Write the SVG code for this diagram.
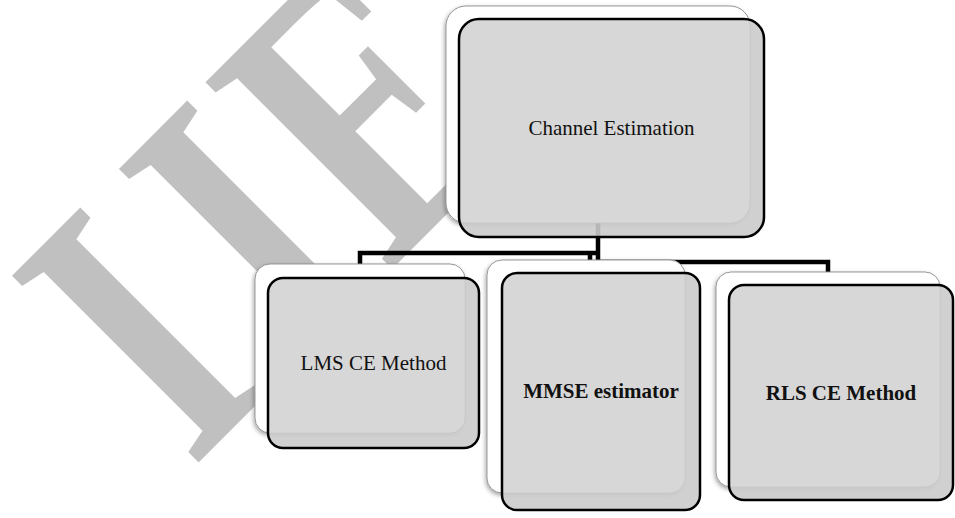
<svg xmlns="http://www.w3.org/2000/svg" width="955" height="518" viewBox="0 0 955 518">
  <defs>
    <filter id="soft" x="-10%" y="-10%" width="120%" height="120%">
      <feDropShadow dx="-1" dy="2" stdDeviation="2" flood-color="#000" flood-opacity="0.35"/>
    </filter>
    <style>
      .back { fill: #ffffff; stroke: #8c8c8c; stroke-width: 1; filter: url(#soft); }
      .face { fill: #cbcbcb; fill-opacity: 0.9; stroke: none; }
      .sheen { fill: #ffffff; fill-opacity: 0.15; stroke: none; }
      .edge { fill: none; stroke: #000; stroke-width: 2.5; }
      .lbl { font-family: "Liberation Serif", "Times New Roman", serif; font-size: 21px; fill: #111; text-anchor: middle; }
      .bold { font-weight: bold; }
      .wire { fill: none; stroke: #000; stroke-width: 4.5; stroke-linejoin: miter; stroke-linecap: butt; }
      .mark { font-family: "Liberation Serif", "Times New Roman", serif; font-weight: bold; font-size: 403px; fill: #c0c0c0; }
    </style>
  </defs>

  <rect width="955" height="518" fill="#ffffff"/>

  <!-- diagonal watermark lettering -->
  <g id="watermark" transform="translate(330.5,330.5) rotate(-45) scale(0.745,1)">
    <text class="mark" x="-264" y="0">I</text>
    <text class="mark" x="-61" y="0">I</text>
    <text class="mark" x="110" y="0">E</text>
  </g>

  <!-- tree connectors -->
  <g id="connectors">
    <path class="wire" d="M598,223 V262"/>
    <path class="wire" d="M598,253 H360 V265"/>
    <path class="wire" d="M590,251 V261"/>
    <path class="wire" d="M598,262 H828 V273"/>
  </g>

  <g id="channel-estimation">
    <rect class="back" x="446" y="6" width="304" height="217" rx="20"/>
    <rect class="face" x="459" y="19" width="305" height="218" rx="20"/>
    <rect class="sheen" x="446" y="6" width="304" height="217" rx="20"/>
    <rect class="edge" x="459" y="19" width="305" height="218" rx="20"/>
    <text class="lbl" x="611.5" y="135">Channel Estimation</text>
  </g>

  <g id="lms">
    <rect class="back" x="255" y="264" width="210" height="169" rx="15"/>
    <rect class="face" x="268" y="278" width="211" height="170" rx="15"/>
    <rect class="sheen" x="255" y="264" width="210" height="169" rx="15"/>
    <rect class="edge" x="268" y="278" width="211" height="170" rx="15"/>
    <text class="lbl" x="373.5" y="370">LMS CE Method</text>
  </g>

  <g id="mmse">
    <rect class="back" x="487" y="260" width="198" height="233" rx="15"/>
    <rect class="face" x="502" y="273" width="198" height="237" rx="15"/>
    <rect class="sheen" x="487" y="260" width="198" height="233" rx="15"/>
    <rect class="edge" x="502" y="273" width="198" height="237" rx="15"/>
    <text class="lbl bold" x="601" y="398">MMSE estimator</text>
  </g>

  <g id="rls">
    <rect class="back" x="716" y="272" width="224" height="215" rx="15"/>
    <rect class="face" x="729" y="285" width="224" height="215" rx="15"/>
    <rect class="sheen" x="716" y="272" width="224" height="215" rx="15"/>
    <rect class="edge" x="729" y="285" width="224" height="215" rx="15"/>
    <text class="lbl bold" x="841" y="400">RLS CE Method</text>
  </g>
</svg>
